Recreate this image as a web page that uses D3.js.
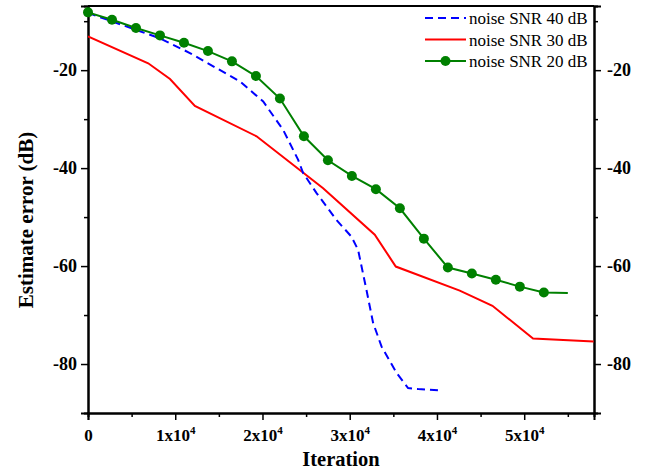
<!DOCTYPE html>
<html><head><meta charset="utf-8">
<script src="https://cdn.jsdelivr.net/npm/d3@7"></script>
<style>body{margin:0;background:#fff;} svg{display:block;}</style>
</head><body>
<svg id="c" width="657" height="471"></svg>
<script>
// ---- data ----
const seriesNames = ["noise SNR 40 dB", "noise SNR 30 dB", "noise SNR 20 dB"];
const snr40X = [0, 8250, 11680, 17410, 20080, 22370, 24090, 24660, 26200, 28490, 30200, 30960, 31920, 32680, 33640, 35360, 36690, 37840, 40320];
const snr40Y = [-8.3, -13.5, -16.5, -22.3, -26.4, -32.2, -38.3, -41.0, -45.1, -50.6, -54.0, -56.7, -64.9, -71.6, -76.4, -81.8, -84.9, -85.1, -85.4];
const snr30X = [0, 6900, 9400, 12250, 19320, 26950, 32870, 35280, 42610, 46360, 51010, 57960];
const snr30Y = [-13.1, -18.6, -21.8, -27.3, -33.5, -44.1, -53.6, -60.1, -65.0, -68.1, -74.8, -75.4];
const snr20X = [0, 2750, 5500, 8250, 11000, 13750, 16500, 19250, 22000, 24750, 27500, 30250, 33000, 35750, 38500, 41250, 44000, 46750, 49500, 52250, 55000];
const snr20Y = [-8.2, -9.7, -11.4, -12.9, -14.4, -16.1, -18.2, -21.2, -25.8, -33.5, -38.4, -41.6, -44.3, -48.2, -54.4, -60.3, -61.5, -62.8, -64.2, -65.4, -65.5];
const snr20Markers = 20; // markers on first 20 points
const xMajor = [0, 10000, 20000, 30000, 40000, 50000];
const xMinor = [5000, 15000, 25000, 35000, 45000, 55000];
const yMajor = [-20, -40, -60, -80];
const yMinor = [-10, -30, -50, -70];
const xTitle = "Iteration";
const yTitle = "Estimate error (dB)";

// ---- layout ----
const L = 88, R = 594, T = 6, B = 413;
const svg = d3.select("#c");
const x = d3.scaleLinear().domain([0, 58000]).range([L, R]);
const y = d3.scaleLinear().domain([-90, -6.9]).range([B, T]);
const font = "'Liberation Serif','Times New Roman',serif";
const fmtY = d => String(d); // plain hyphen minus

svg.append("line").attr("x1", L).attr("x2", R).attr("y1", T).attr("y2", T)
  .attr("stroke", "#000").attr("stroke-width", 2);

function styleAxis(g) {
  g.select(".domain").attr("stroke-width", 2);
  g.selectAll(".tick line").attr("stroke-width", 1.5);
}
// bottom axis
const gxMin = svg.append("g").attr("transform", `translate(0,${B})`)
  .call(d3.axisBottom(x).tickValues(xMinor).tickSize(4).tickFormat(""));
styleAxis(gxMin);
const gx = svg.append("g").attr("transform", `translate(0,${B})`)
  .call(d3.axisBottom(x).tickValues(xMajor).tickSize(7).tickFormat(""));
styleAxis(gx);
gx.selectAll(".tick").append("text")
  .attr("y", 28).attr("text-anchor", "middle").attr("fill", "#000")
  .style("font-family", font).style("font-size", "17px").style("font-weight", "bold")
  .each(function(d) {
    const t = d3.select(this);
    if (d === 0) { t.text("0"); return; }
    t.append("tspan").text((d / 10000) + "x10");
    t.append("tspan").attr("dy", -7).style("font-size", "11px").text("4");
  });

// left axis
const gyMin = svg.append("g").attr("transform", `translate(${L},0)`)
  .call(d3.axisLeft(y).tickValues(yMinor).tickSize(4).tickFormat(""));
styleAxis(gyMin);
const gy = svg.append("g").attr("transform", `translate(${L},0)`)
  .call(d3.axisLeft(y).tickValues(yMajor).tickSize(7).tickPadding(4).tickFormat(fmtY));
styleAxis(gy);
gy.selectAll(".tick text").style("font-family", font).style("font-size", "18px")
  .style("font-weight", "bold").attr("fill", "#000");

// right axis
const grMin = svg.append("g").attr("transform", `translate(${R},0)`)
  .call(d3.axisRight(y).tickValues(yMinor).tickSize(4).tickFormat(""));
styleAxis(grMin);
const gr = svg.append("g").attr("transform", `translate(${R},0)`)
  .call(d3.axisRight(y).tickValues(yMajor).tickSize(7).tickPadding(6).tickFormat(fmtY));
styleAxis(gr);
gr.selectAll(".tick text").style("font-family", font).style("font-size", "18px")
  .style("font-weight", "bold").attr("fill", "#000");

// titles
svg.append("text").attr("x", (L + R) / 2).attr("y", 466).attr("text-anchor", "middle")
  .style("font-family", font).style("font-size", "20.5px").style("font-weight", "bold").text(xTitle);
svg.append("text").attr("transform", `translate(33,220) rotate(-90)`)
  .attr("text-anchor", "middle")
  .style("font-family", font).style("font-size", "21px").style("font-weight", "bold").text(yTitle);

// lines
const line = d3.line().x(d => x(d[0])).y(d => y(d[1]));
svg.append("clipPath").attr("id", "plotclip").append("rect")
  .attr("x", L).attr("y", T).attr("width", R - L).attr("height", B - T);
const plot = svg.append("g").attr("clip-path", "url(#plotclip)");

const d40 = snr40X.map((v, i) => [v, snr40Y[i]]);
const d30 = snr30X.map((v, i) => [v, snr30Y[i]]);
const d20 = snr20X.map((v, i) => [v, snr20Y[i]]);

plot.append("path").datum(d30).attr("d", line).attr("fill", "none")
  .attr("stroke", "#ff0000").attr("stroke-width", 2);
plot.append("path").datum(d40).attr("d", line).attr("fill", "none")
  .attr("stroke", "#0000ff").attr("stroke-width", 2).attr("stroke-dasharray", "8,5");
plot.append("path").datum(d20).attr("d", line).attr("fill", "none")
  .attr("stroke", "#008000").attr("stroke-width", 2);
svg.append("g").selectAll("circle").data(d20.slice(0, snr20Markers)).join("circle")
  .attr("cx", d => x(d[0])).attr("cy", d => y(d[1])).attr("r", 5)
  .attr("fill", "#008000");

// legend
const leg = svg.append("g");
const legStyles = [
  {color: "#0000ff", dash: "8,5", marker: false},
  {color: "#ff0000", dash: null, marker: false},
  {color: "#008000", dash: null, marker: true}
];
seriesNames.forEach((name, i) => {
  const yy = 18 + i * 21.5;
  const st = legStyles[i];
  leg.append("line").attr("x1", 425).attr("x2", 466).attr("y1", yy).attr("y2", yy)
    .attr("stroke", st.color).attr("stroke-width", 2).attr("stroke-dasharray", st.dash);
  if (st.marker) leg.append("circle").attr("cx", 445.5).attr("cy", yy).attr("r", 5).attr("fill", st.color);
  leg.append("text").attr("x", 469).attr("y", yy + 6)
    .style("font-family", font).style("font-size", "17px").text(name);
});
</script>
</body></html>
